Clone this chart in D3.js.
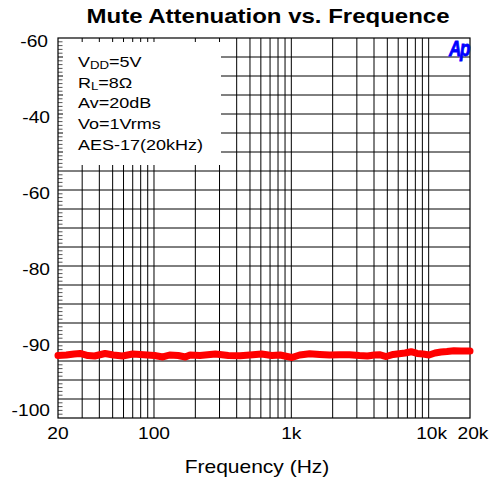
<!DOCTYPE html>
<html>
<head>
<meta charset="utf-8">
<script src="https://cdn.jsdelivr.net/npm/d3@7"></script>
<style>
  body { margin: 0; background: #fff; }
  svg { display: block; font-family: "Liberation Sans", Arial, sans-serif; }
</style>
</head>
<body>
<div id="chart"></div>
<script>
'use strict'

// measured curve (Hz, dB)
const freqs = [20, 23, 26.2, 29, 33, 37, 44, 50.6, 59, 70, 79.4, 89, 101, 116, 130, 150, 169, 183,
  216, 280, 348, 423, 499, 608, 720, 829, 1010, 1150, 1360, 1610, 1900, 2240, 2650, 3130, 3580,
  4020, 4380, 4910, 5520, 6100, 6740, 7450, 8240, 9110, 10070, 11130, 12300, 13600, 15280, 17170, 20000];
const levels = [-91.78, -91.71, -91.58, -91.51, -91.78, -91.84, -91.51, -91.71, -91.84, -91.58, -91.64, -91.71,
  -91.78, -91.97, -91.71, -91.78, -91.97, -91.71, -91.78, -91.58, -91.78, -91.80, -91.71, -91.58, -91.78,
  -91.71, -92.04, -91.71, -91.54, -91.64, -91.71, -91.67, -91.67, -91.78, -91.84, -91.71, -91.67, -91.91,
  -91.64, -91.54, -91.45, -91.28, -91.51, -91.58, -91.71, -91.45, -91.32, -91.25, -91.14, -91.18, -91.18];

const xTickValues = [20, 100, 1000, 10000, 20000];
const xTickLabels = ["20", "100", "1k", "10k", "20k"];
const yTickValues = [-50, -60, -70, -80, -90, -100];
const yTickLabels = ["-60", "-40", "-60", "-80", "-90", "-100"];
const legendLines = [["V", "DD", "=5V"], ["R", "L", "=8\u03A9"], ["Av=20dB"], ["Vo=1Vrms"], ["AES-17(20kHz)"]];

const width = 493, height = 480;
const pLeft = 58, pRight = 470, pTop = 38, pBottom = 418;
const sx = 1.2; // the text in the picture is wider than Arial

const svg = d3.select("#chart").append("svg")
  .attr("width", width).attr("height", height);

const x = d3.scaleLog().domain([20, 20000]).range([pLeft, pRight]);
const y = d3.scaleLinear().domain([-100, -50]).range([pBottom, pTop]);

function label(px, py, txt, size, anchor, weight) {
  return svg.append("text")
    .attr("transform", `translate(${px},${py}) scale(${sx},1)`)
    .attr("text-anchor", anchor)
    .attr("font-size", size)
    .attr("font-weight", weight || "normal")
    .attr("fill", "#000")
    .text(txt);
}

// grid
const xGrid = [];
for (let dec = 10; dec <= 10000; dec *= 10)
  for (let m = 1; m <= 9; m++) {
    const f = m * dec;
    if (f > 20 && f < 20000) xGrid.push(f);
  }
const yGrid = d3.range(-97.5, -50, 2.5);
const yMinor = d3.range(-99.5, -50, 0.5).filter(v => Math.abs(v / 2.5 - Math.round(v / 2.5)) > 0.01);

svg.append("g").selectAll("line").data(xGrid).join("line")
  .attr("x1", d => x(d)).attr("x2", d => x(d))
  .attr("y1", pTop).attr("y2", pBottom)
  .attr("stroke", "#000").attr("stroke-width", 1);

svg.append("g").selectAll("line").data(yGrid).join("line")
  .attr("x1", pLeft).attr("x2", pRight)
  .attr("y1", d => y(d)).attr("y2", d => y(d))
  .attr("stroke", "#000").attr("stroke-width", 1);

// legend box covers the grid
svg.append("rect").attr("x", 63).attr("y", 42).attr("width", 158).attr("height", 123).attr("fill", "#fff");

svg.append("g").selectAll("line").data(yMinor).join("line")
  .attr("x1", pLeft).attr("x2", pLeft + 4.5)
  .attr("y1", d => y(d)).attr("y2", d => y(d))
  .attr("stroke", "#555").attr("stroke-width", 1);

svg.append("rect").attr("x", pLeft).attr("y", pTop)
  .attr("width", pRight - pLeft).attr("height", pBottom - pTop)
  .attr("fill", "none").attr("stroke", "#000").attr("stroke-width", 1.2);

// curve
svg.append("path")
  .datum(d3.zip(freqs, levels))
  .attr("fill", "none").attr("stroke", "#ff0000")
  .attr("stroke-width", 7).attr("stroke-linecap", "round").attr("stroke-linejoin", "round")
  .attr("d", d3.line().x(d => x(d[0])).y(d => y(d[1])));

// legend text
legendLines.forEach((parts, i) => {
  const t = svg.append("text")
    .attr("transform", `translate(78,${67 + i * 20.7}) scale(${sx},1)`)
    .attr("font-size", 15).attr("fill", "#000");
  t.append("tspan").text(parts[0]);
  if (parts.length > 1) {
    t.append("tspan").attr("font-size", 11).attr("dy", 2).text(parts[1]);
    t.append("tspan").attr("dy", -2).text(parts[2]);
  }
});

// axes labels
xTickValues.forEach((v, i) => label(x(v) + (i >= 3 ? 3 : 0), 439, xTickLabels[i], 16, "middle"));
yTickValues.forEach((v, i) => {
  const py = i === 5 ? y(v) - 2 : y(v) + 9;
  label(i === 0 ? 48 : 50, py, yTickLabels[i], 16, "end");
});

label(268, 23, "Mute Attenuation vs. Frequence", 20, "middle", "bold");
label(257, 473, "Frequency (Hz)", 17.5, "middle");

// Ap logo
svg.append("text")
  .attr("transform", "translate(469,56) scale(0.85,1.1)")
  .attr("text-anchor", "end")
  .attr("font-size", 20).attr("font-weight", "bold").attr("font-style", "italic")
  .attr("letter-spacing", -1.5)
  .attr("stroke", "#0000ff").attr("stroke-width", 0.8)
  .attr("fill", "#0000ff")
  .text("Ap");
</script>
</body>
</html>
